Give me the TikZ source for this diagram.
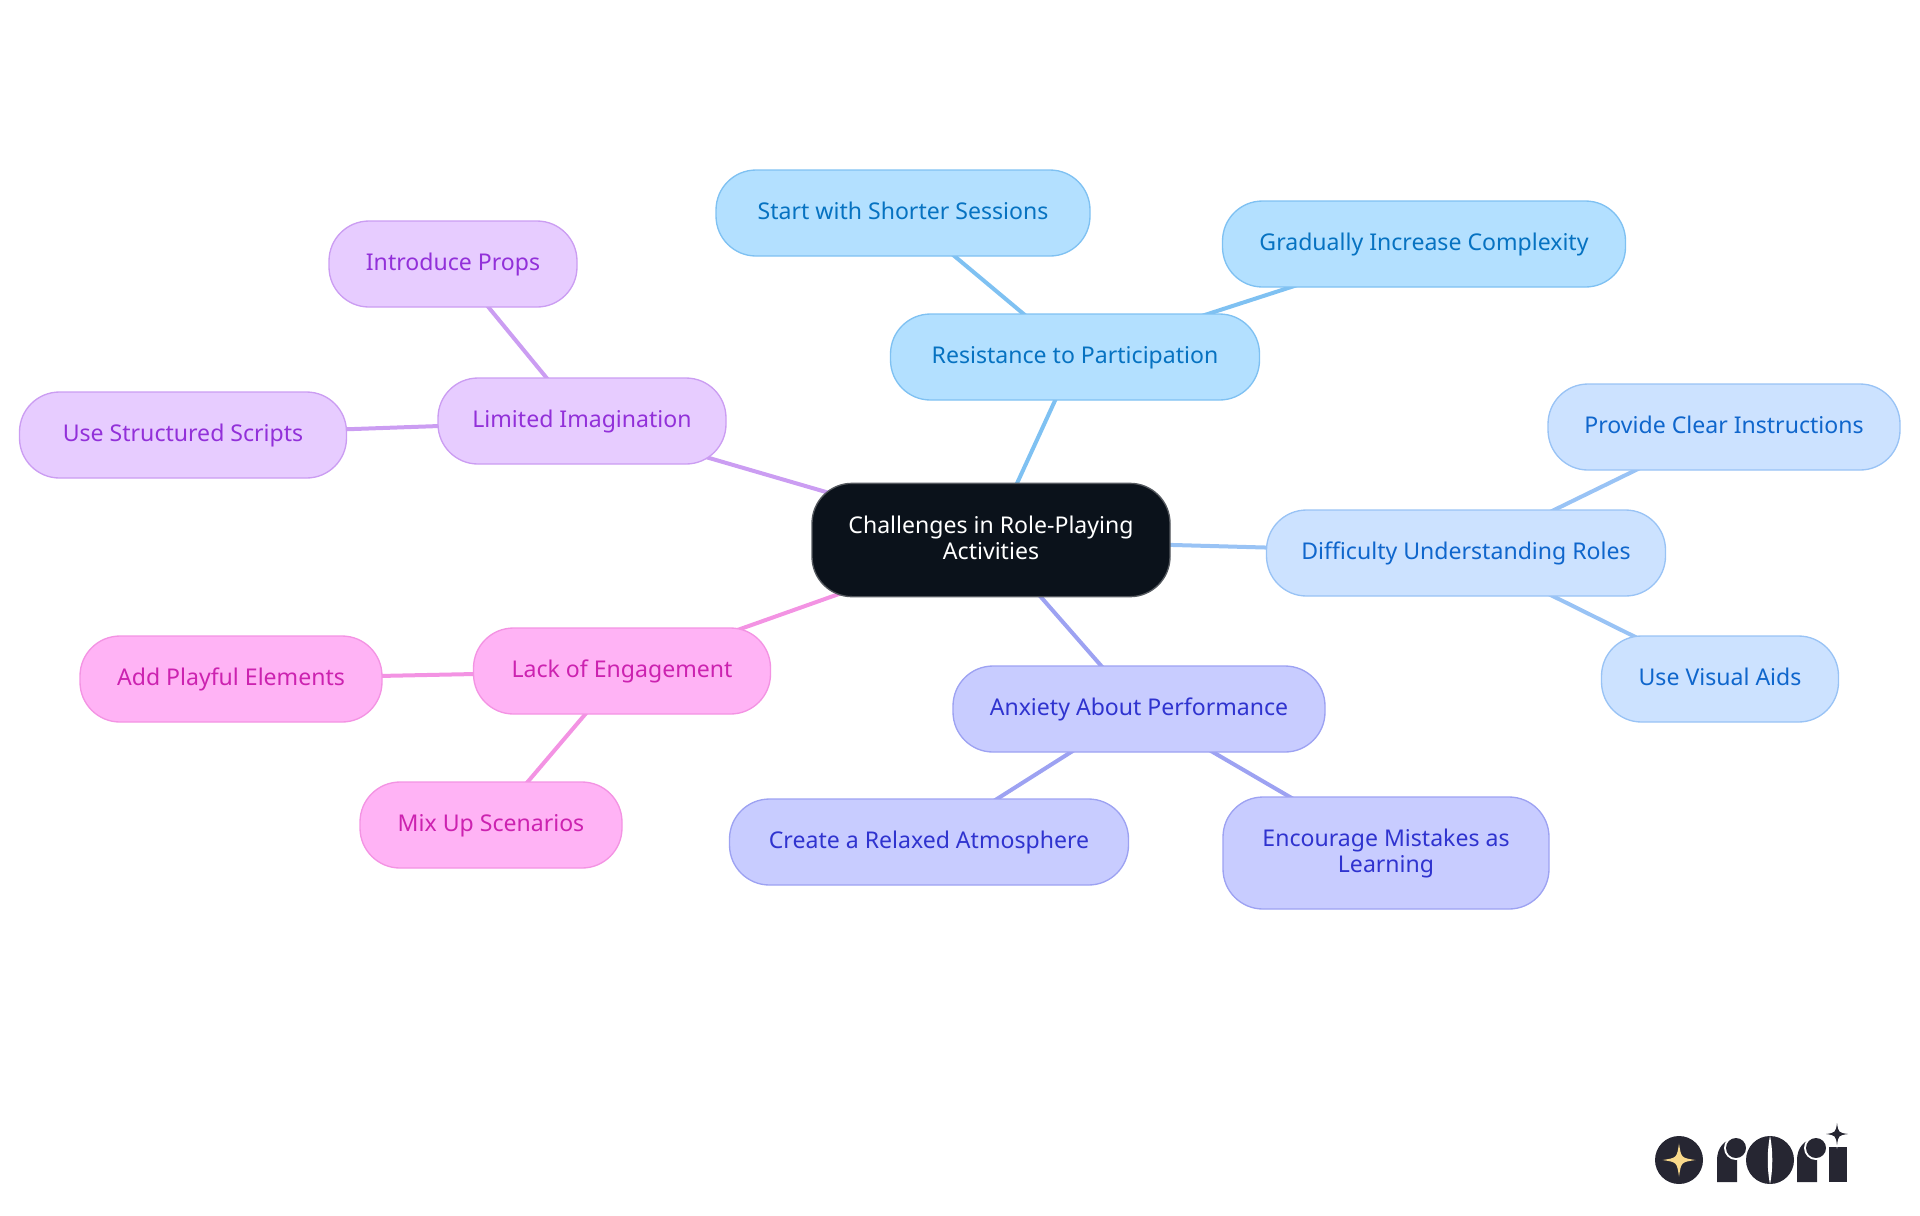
\documentclass[tikz,border=0pt]{standalone}
\usepackage{fontspec}
\setmainfont{Noto Sans}
\usepackage{xcolor}
\usetikzlibrary{backgrounds}
\definecolor{rootfill}{HTML}{0B121B}
\definecolor{rootline}{HTML}{55595F}
\definecolor{skyfill}{HTML}{B3E0FF}
\definecolor{skyline}{HTML}{7FC1F2}
\definecolor{skytext}{HTML}{0672C1}
\definecolor{palefill}{HTML}{CCE2FF}
\definecolor{paleline}{HTML}{99C3F5}
\definecolor{paletext}{HTML}{0F66CC}
\definecolor{indigofill}{HTML}{C8CCFF}
\definecolor{indigoline}{HTML}{9DA2F2}
\definecolor{indigotext}{HTML}{2F33CF}
\definecolor{violetfill}{HTML}{E7CCFF}
\definecolor{violetline}{HTML}{CB9DF2}
\definecolor{violettext}{HTML}{9230D9}
\definecolor{pinkfill}{HTML}{FFB3F5}
\definecolor{pinkline}{HTML}{F393E3}
\definecolor{pinktext}{HTML}{CC22B0}
\definecolor{logodark}{HTML}{262632}
\definecolor{logostar}{HTML}{F9D98B}
\tikzset{
    mapbox/.style={rounded corners=30pt, line width=1pt, align=center, inner sep=0pt,
        minimum height=64.5pt, text height=14pt, text depth=4.5pt,
        font=\fontsize{17.3}{19.5}\selectfont},
    twolines/.style={text height=33.5pt},
    rootbox/.style={mapbox, twolines, fill=rootfill, draw=rootline, text=white, minimum height=85pt},
    skybox/.style={mapbox, fill=skyfill, draw=skyline, text=skytext},
    palebox/.style={mapbox, fill=palefill, draw=paleline, text=paletext},
    indigobox/.style={mapbox, fill=indigofill, draw=indigoline, text=indigotext},
    violetbox/.style={mapbox, fill=violetfill, draw=violetline, text=violettext},
    pinkbox/.style={mapbox, fill=pinkfill, draw=pinkline, text=pinktext},
    link/.style={line width=3pt},
    sparkle/.pic={
        \path[pic actions] (0,-1) .. controls (.13,-.13) .. (1,0)
            .. controls (.13,.13) .. (0,1)
            .. controls (-.13,.13) .. (-1,0)
            .. controls (-.13,-.13) .. cycle;
    }
}
\begin{document}
\begin{tikzpicture}[x=0.75pt, y=-0.75pt]
    \useasboundingbox (0,0) rectangle (1920,1215);

    % Centro
    \node[rootbox, minimum width=268.5pt] (root) at (991,540) {Challenges in Role-Playing\\Activities};

    % Resistance
    \node[skybox, minimum width=276.75pt] (resist) at (1075,357) {Resistance to Participation};
    \node[skybox, minimum width=280.5pt] (start) at (903,213) {Start with Shorter Sessions};
    \node[skybox, minimum width=302.25pt] (grad) at (1424,244) {Gradually Increase Complexity};

    % Difficulty
    \node[palebox, minimum width=299.25pt] (diff) at (1466,553) {Difficulty Understanding Roles};
    \node[palebox, minimum width=264pt] (clear) at (1724,427) {Provide Clear Instructions};
    \node[palebox, minimum width=177.75pt] (aids) at (1720,679) {Use Visual Aids};

    % Anxiety
    \node[indigobox, minimum width=279pt] (anx) at (1139,709) {Anxiety About Performance};
    \node[indigobox, minimum width=299.25pt] (relax) at (929,842) {Create a Relaxed Atmosphere};
    \node[indigobox, twolines, minimum width=244.5pt, minimum height=84pt] (mist) at (1386,853) {Encourage Mistakes as\\Learning};

    % Lack of engagement
    \node[pinkbox, minimum width=222.75pt] (lack) at (622,671) {Lack of Engagement};
    \node[pinkbox, minimum width=226.5pt] (play) at (231,679) {Add Playful Elements};
    \node[pinkbox, minimum width=196.5pt] (mix) at (491,825) {Mix Up Scenarios};

    % Imagination
    \node[violetbox, minimum width=216pt] (imag) at (582,421) {Limited Imagination};
    \node[violetbox, minimum width=186pt] (props) at (453,264) {Introduce Props};
    \node[violetbox, minimum width=245.25pt] (script) at (183,435) {Use Structured Scripts};

    % Collegamenti
    \begin{scope}[on background layer]
        \draw[link, skyline] (root.center) -- (resist.center);
        \draw[link, skyline] (resist.center) -- (start.center);
        \draw[link, skyline] (resist.center) -- (grad.center);
        \draw[link, paleline] (root.center) -- (diff.center);
        \draw[link, paleline] (diff.center) -- (clear.center);
        \draw[link, paleline] (diff.center) -- (aids.center);
        \draw[link, indigoline] (root.center) -- (anx.center);
        \draw[link, indigoline] (anx.center) -- (relax.center);
        \draw[link, indigoline] (anx.center) -- (mist.center);
        \draw[link, pinkline] (root.center) -- (lack.center);
        \draw[link, pinkline] (lack.center) -- (play.center);
        \draw[link, pinkline] (lack.center) -- (mix.center);
        \draw[link, violetline] (root.center) -- (imag.center);
        \draw[link, violetline] (imag.center) -- (props.center);
        \draw[link, violetline] (imag.center) -- (script.center);
    \end{scope}

    % Logo
    \fill[logodark] (1679,1160) circle (24);
    \pic[fill=logostar, scale=16.5] at (1679,1160) {sparkle};
    \fill[logodark] (1717,1182) -- (1717,1160) .. controls (1717,1148) and (1724,1139) .. (1737,1138) -- (1737,1182) -- cycle;
    \fill[white] (1736,1148) circle (12);
    \fill[logodark] (1736,1148) circle (10);
    \fill[logodark] (1770,1160) circle (24);
    \fill[white] (1770,1136) .. controls (1767,1150) and (1767,1170) .. (1770,1184) .. controls (1773,1170) and (1773,1150) .. (1770,1136) -- cycle;
    \fill[logodark] (1797,1182) -- (1797,1160) .. controls (1797,1148) and (1804,1139) .. (1817,1138) -- (1817,1182) -- cycle;
    \fill[white] (1816,1148) circle (12);
    \fill[logodark] (1816,1148) circle (10);
    \fill[logodark] (1829,1147) rectangle (1847,1182);
    \pic[fill=white, scale=15] at (1837,1134) {sparkle};
    \pic[fill=logodark, scale=11] at (1837,1134) {sparkle};
\end{tikzpicture}
\end{document}
